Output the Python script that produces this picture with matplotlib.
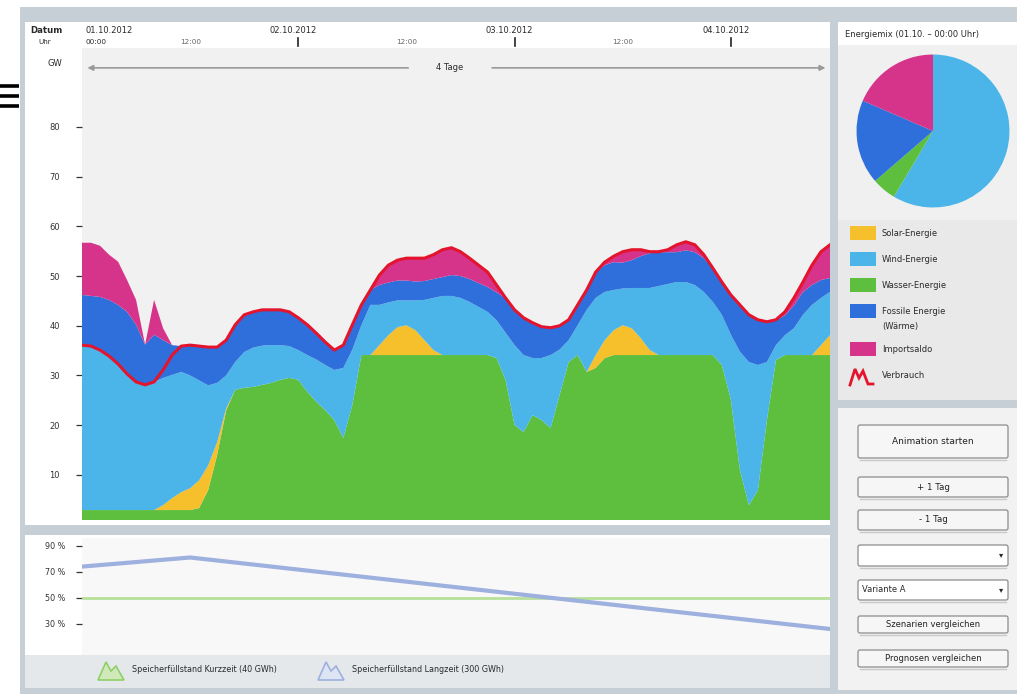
import numpy as np
import matplotlib
matplotlib.use("Agg")
import matplotlib.pyplot as plt
from matplotlib.patches import Rectangle, FancyBboxPatch, Polygon

W, H = 1017, 694

# ---------------------------------------------------------------- data
hours = np.arange(84)  # hourly values, start 01.10.2012 00:00

wasser = [2.9, 2.9, 2.9, 2.9, 2.9, 2.9, 2.9, 2.9, 2.9, 2.9, 2.9, 2.9, 2.9,
          3.3, 6.9, 14.0, 23.0, 27.1, 27.5, 27.7, 28.1, 28.5, 29.1, 29.5, 29.1,
          26.7, 24.7, 23.0, 21.0, 17.4, 24.1,
          34.1, 34.1, 34.1, 34.1, 34.1, 34.1, 34.1, 34.1, 34.1, 34.1, 34.1, 34.1,
          34.1, 34.1, 34.1,
          33.5, 29.1, 20.0, 18.6, 22.0, 21.0, 19.4, 26.1, 32.7, 34.1, 30.7, 31.5, 33.5,
          34.1, 34.1, 34.1, 34.1, 34.1, 34.1, 34.1, 34.1, 34.1, 34.1, 34.1, 34.1,
          32.1, 25.1, 11.0, 3.9, 6.9, 21.0, 33.1,
          34.1, 34.1, 34.1, 34.1, 34.1, 34.1]

solar = [0, 0, 0, 0, 0, 0, 0, 0, 0,
         1.0, 2.4, 3.6, 4.4, 5.6, 5.0, 2.6, 0.4,
         0, 0, 0, 0, 0, 0, 0, 0, 0, 0, 0, 0, 0, 0, 0, 0,
         2.0, 4.0, 5.6, 6.0, 5.0, 3.0, 1.0,
         0, 0, 0, 0, 0, 0, 0, 0, 0, 0, 0, 0, 0, 0, 0, 0, 0,
         2.6, 3.6, 5.0, 6.0, 5.4, 3.4, 1.0,
         0, 0, 0, 0, 0, 0, 0, 0, 0, 0, 0, 0, 0, 0, 0, 0, 0, 0,
         2.0, 4.0]

wind = [33.2, 33.0, 32.2, 31.0, 29.4, 27.4, 25.8, 25.2, 25.8, 25.6,
        24.8, 24.2, 22.7, 20.1, 16.1, 11.9, 6.6, 5.6, 7.2, 7.9,
        7.9, 7.6, 7.0, 6.4, 6.0, 7.4, 8.5, 9.1, 10.1, 14.1,
        11.1, 6.0, 10.1, 8.1, 6.6, 5.4, 5.0, 6.0, 8.1, 10.5,
        11.9, 11.9, 11.5, 10.7, 9.7, 8.7, 7.6, 9.5, 16.1, 15.5,
        11.5, 12.5, 14.7, 9.1, 4.4, 6.0, 12.5, 11.5, 9.7, 8.1,
        7.4, 8.1, 10.1, 12.5, 13.9, 14.3, 14.7, 14.7, 14.1, 12.7,
        10.7, 10.1, 13.1, 23.8, 28.8, 25.2, 11.7, 3.0, 4.0, 5.4,
        8.1, 10.1, 9.5, 8.7]

fossil = [10.1, 10.1, 10.7, 11.3, 11.9, 12.5, 11.5, 8.1, 9.5, 7.6,
          6.0, 5.2, 6.0, 6.8, 7.6, 7.2, 7.0, 7.4, 7.4, 7.2,
          7.2, 7.0, 7.0, 6.8, 6.4, 6.0, 5.4, 4.6, 4.0, 4.6,
          5.0, 4.0, 3.0, 4.0, 4.0, 4.0, 4.0, 3.8, 3.8, 3.8,
          3.8, 4.2, 4.4, 4.6, 4.8, 5.0, 5.6, 7.0, 7.0, 7.4,
          7.0, 6.2, 5.4, 4.8, 4.0, 4.0, 4.0, 5.2, 5.4, 5.6,
          5.2, 5.6, 6.4, 7.0, 6.8, 6.4, 6.0, 6.4, 6.6, 6.8,
          6.8, 6.6, 8.1, 9.5, 9.5, 9.1, 8.1, 5.0, 4.0, 4.6,
          4.6, 4.0, 3.6, 2.8]

importsaldo = [10.5, 10.7, 10.3, 9.1, 8.7, 6.4, 5.0, 0.0, 7.0, 2.4,
               0, 0, 0, 0, 0, 0, 0, 0, 0, 0, 0, 0, 0, 0, 0, 0, 0, 0, 0, 0, 0, 0, 0,
               2.0, 3.4, 4.0, 4.4, 4.6, 4.6, 4.8, 5.4, 5.4, 4.8, 4.2, 3.6, 3.0, 1.4,
               0, 0, 0, 0, 0, 0, 0, 0, 0, 0, 0,
               0.6, 1.2, 2.0, 2.0, 1.2, 0.2, 0.0, 0.4, 1.4, 1.6, 1.4, 0.6,
               0, 0, 0, 0, 0, 0, 0, 0,
               0.6, 1.4, 2.0, 4.0, 5.6, 6.6]

verbrauch = [36.1, 35.9, 35.1, 33.9, 32.3, 30.3, 28.7, 28.1, 28.7, 31.1,
             34.1, 35.9, 36.1, 35.9, 35.7, 35.7, 37.1, 40.2, 42.2, 42.8,
             43.2, 43.2, 43.2, 42.8, 41.6, 40.2, 38.5, 36.7, 35.1, 36.1,
             40.2, 44.2, 47.2, 50.2, 52.2, 53.2, 53.6, 53.6, 53.6, 54.3,
             55.3, 55.7, 54.9, 53.6, 52.2, 50.8, 48.2, 45.6, 43.2, 41.6,
             40.6, 39.8, 39.6, 40.0, 41.2, 44.2, 47.2, 50.8, 52.8, 54.0,
             54.9, 55.3, 55.3, 54.9, 54.9, 55.3, 56.3, 56.9, 56.3, 54.3,
             51.6, 48.8, 46.2, 44.2, 42.2, 41.2, 40.8, 41.2, 42.8, 45.6,
             48.8, 52.2, 54.9, 56.3]

# storage levels in percent
speicher_lang_h = [0, 12, 83]
speicher_lang = [74, 81, 26]
speicher_kurz_h = [0, 83]
speicher_kurz = [50, 50]

gw_ticks = [10, 20, 30, 40, 50, 60, 70, 80]
pct_ticks = [90, 70, 50, 30]

day_hours = [0, 24, 48, 72]
day_labels = ["01.10.2012", "02.10.2012", "03.10.2012", "04.10.2012"]
noon_hours = [12, 36, 60]

series_labels = ["Solar-Energie", "Wind-Energie", "Wasser-Energie",
                 "Fossile Energie\n(Wärme)", "Importsaldo", "Verbrauch"]
series_colors = ["#f6c02c", "#4bb5ea", "#5dbf3d", "#2f6fdb", "#d6338a"]
line_color = "#e3142c"

# ---------------------------------------------------------------- layout helpers
fig = plt.figure(figsize=(W / 100, H / 100), dpi=100)
fig.patch.set_facecolor("white")


def frect(x0, y0, x1, y1):
    return [x0 / W, 1 - y1 / H, (x1 - x0) / W, (y1 - y0) / H]


X0, X1 = 82, 830


def hx(h):
    return X0 + h * (X1 - X0) / 83.0


bg = fig.add_axes([0, 0, 1, 1], zorder=-1)
bg.set_xlim(0, W)
bg.set_ylim(H, 0)
bg.axis("off")


def box(x0, y0, x1, y1, fc, ec="none", lw=0, z=1):
    bg.add_patch(Rectangle((x0, y0), x1 - x0, y1 - y0, facecolor=fc,
                           edgecolor=ec, linewidth=lw, zorder=z))


def button(x0, y0, x1, y1, label, fs=6.2, fc="#f6f6f6"):
    bg.add_patch(FancyBboxPatch((x0, y0), x1 - x0, y1 - y0,
                                boxstyle="round,pad=0,rounding_size=2",
                                fc=fc, ec="#8c8c8c", lw=0.9, zorder=3))
    bg.plot([x0 + 2, x1 - 2], [y1 + 1.5, y1 + 1.5], color="#c9c9c9", lw=1, zorder=3)
    if label:
        bg.text((x0 + x1) / 2, (y0 + y1) / 2, label, ha="center", va="center",
                fontsize=fs, color="#222222", zorder=4)


txt = dict(color="#2a2a2a", zorder=5)

# outer frame and menu icon
box(20, 7, W, H, "#c6ced6", z=0)
for yy in (86, 96, 106):
    bg.plot([0, 19], [yy, yy], color="black", lw=2.6, solid_capstyle="butt", zorder=2)

# header row with dates
box(25, 22, 830, 48, "white")
bg.text(30, 30, "Datum", fontsize=6.2, fontweight="bold", va="center", **txt)
bg.text(38, 42, "Uhr", fontsize=5.2, va="center", **txt)
for h, lab in zip(day_hours, day_labels):
    if h == 0:
        bg.text(86, 30, lab, fontsize=6, va="center", ha="left", **txt)
        bg.text(86, 42, "00:00", fontsize=5.2, va="center", ha="left", **txt)
    else:
        bg.text(hx(h) - 5, 30, lab, fontsize=6, va="center", ha="center", **txt)
        bg.plot([hx(h), hx(h)], [38, 46], color="#222222", lw=1.2, zorder=5)
for h in noon_hours:
    bg.text(hx(h), 42, "12:00", fontsize=5.2, va="center", ha="center",
            color="#666666", zorder=5)

# main and lower panel backgrounds
box(25, 48, 830, 525, "white")
bg.text(55, 63, "GW", fontsize=6, ha="center", va="center", **txt)
box(25, 535, 830, 655, "white")
box(25, 655, 830, 688, "#e5e8eb")

# right-hand panels
box(838, 22, W, 45, "white")
box(838, 45, W, 220, "#f0f0f0")
box(838, 220, W, 400, "#e9e9e9")
box(838, 408, W, 690, "#f2f2f2")

# ---------------------------------------------------------------- main stacked chart
ax = fig.add_axes(frect(X0, 48, X1, 520))
ax.set_facecolor("#f1f1f1")
ax.stackplot(hours, wasser, solar, wind, fossil, importsaldo,
             colors=[series_colors[2], series_colors[0], series_colors[1],
                     series_colors[3], series_colors[4]],
             linewidth=0, antialiased=True, zorder=2)
ax.plot(hours, verbrauch, color=line_color, lw=2.2, zorder=3, solid_joinstyle="round")
ax.set_xlim(0, 83)
ax.set_ylim(0.9, 95.9)
for s in ax.spines.values():
    s.set_visible(False)
ax.set_xticks([])
ax.set_yticks(gw_ticks)
ax.set_yticklabels([str(t) for t in gw_ticks])
ax.tick_params(axis="y", length=4, width=0.9, pad=12, labelsize=6, colors="#333333")

arrow_kw = dict(arrowstyle="-|>", color="#9a9a9a", lw=1.2, mutation_scale=8,
                shrinkA=0, shrinkB=0)
ax.annotate("", xy=(0.6, 91.9), xytext=(36.2, 91.9), arrowprops=arrow_kw)
ax.annotate("", xy=(82.5, 91.9), xytext=(45.5, 91.9), arrowprops=arrow_kw)
ax.text(40.8, 91.9, "4 Tage", ha="center", va="center", fontsize=6, color="#2a2a2a")

# ---------------------------------------------------------------- storage levels
ax2 = fig.add_axes(frect(X0, 538, X1, 655))
ax2.set_facecolor("#f8f8f8")
ax2.plot(speicher_kurz_h, speicher_kurz, color="#b8e09a", lw=2)
ax2.plot(speicher_lang_h, speicher_lang, color="#9db0de", lw=3)
ax2.set_xlim(0, 83)
ax2.set_ylim(6, 96)
for s in ax2.spines.values():
    s.set_visible(False)
ax2.set_xticks([])
ax2.set_yticks(pct_ticks)
ax2.set_yticklabels([f"{t} %" for t in pct_ticks])
ax2.tick_params(axis="y", length=4, width=0.9, pad=8, labelsize=5.8, colors="#333333")

# legend of the lower panel
bg.add_patch(Polygon([[98, 680], [106, 662], [111, 671], [116, 666], [124, 680]],
                     closed=True, fc="#cfe9b8", ec="#8fcf6a", lw=1.2, zorder=4))
bg.text(132, 670, "Speicherfüllstand Kurzzeit (40 GWh)", fontsize=5.8, va="center", **txt)
bg.add_patch(Polygon([[318, 680], [326, 662], [331, 671], [336, 666], [344, 680]],
                     closed=True, fc="#dde4f4", ec="#9db0de", lw=1.2, zorder=4))
bg.text(352, 670, "Speicherfüllstand Langzeit (300 GWh)", fontsize=5.8, va="center", **txt)

# ---------------------------------------------------------------- pie of the mix at 00:00
bg.text(845, 34, "Energiemix (01.10. – 00:00 Uhr)", fontsize=6, va="center", **txt)
axp = fig.add_axes(frect(855, 53, 1011, 209))
first = [solar[0], wind[0], wasser[0], fossil[0], importsaldo[0]]
vals = [v for v in first if v > 0]
cols = [c for v, c in zip(first, series_colors) if v > 0]
axp.pie(vals, colors=cols, startangle=90, counterclock=False,
        wedgeprops=dict(linewidth=0))
axp.set_xlim(-1.02, 1.02)
axp.set_ylim(-1.02, 1.02)

# legend of the mix
rows = [233, 259, 285, 311, 349]
for y, c, lab in zip(rows, series_colors, series_labels[:5]):
    box(850, y - 7, 876, y + 7, c, z=3)
    bg.text(882, y, lab.split("\n")[0], fontsize=6, va="center", **txt)
    if "\n" in lab:
        bg.text(882, y + 15, lab.split("\n")[1], fontsize=6, va="center", **txt)
bg.plot([850, 855, 859, 863, 868, 873], [385, 369, 378, 371, 384, 384],
        color=line_color, lw=2, zorder=4, solid_joinstyle="miter")
bg.text(882, 375, series_labels[5], fontsize=6, va="center", **txt)

# ---------------------------------------------------------------- controls
button(858, 425, 1008, 458, "Animation starten", fs=6.5)
button(858, 477, 1008, 497, "+ 1 Tag")
button(858, 510, 1008, 530, "- 1 Tag")
button(858, 545, 1008, 566, "", fc="white")
bg.text(1001, 555, "▾", fontsize=6, ha="center", va="center", **txt)
button(858, 580, 1008, 600, "", fc="white")
bg.text(862, 590, "Variante A", fontsize=6, ha="left", va="center", **txt)
bg.text(1001, 590, "▾", fontsize=6, ha="center", va="center", **txt)
button(858, 616, 1008, 633, "Szenarien vergleichen", fs=6)
button(858, 650, 1008, 667, "Prognosen vergleichen", fs=6)

fig.savefig("out.png", dpi=100)
